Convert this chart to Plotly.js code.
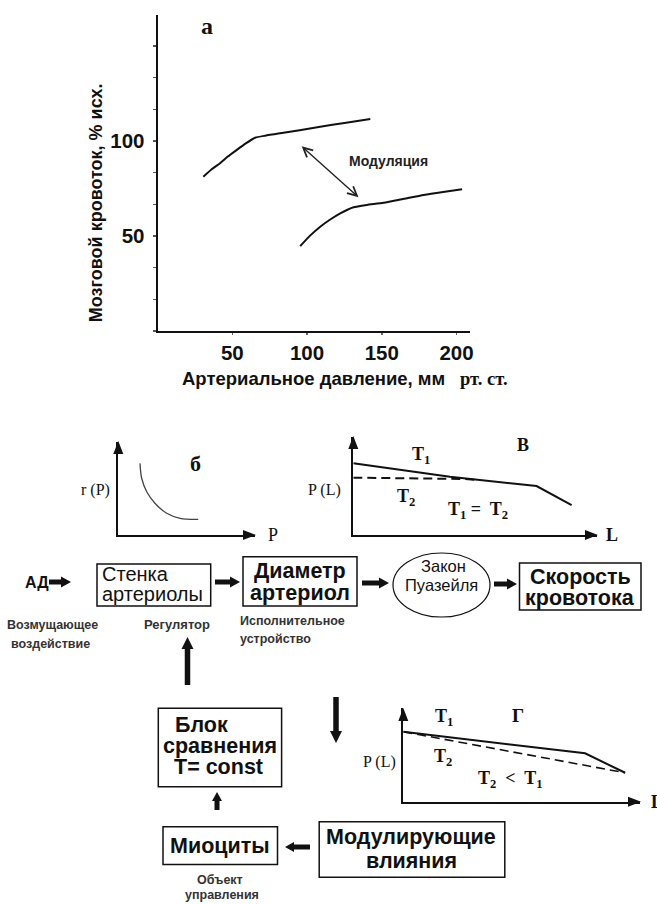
<!DOCTYPE html>
<html><head><meta charset="utf-8">
<script src="https://cdn.plot.ly/plotly-3.0.1.min.js"></script>
<style>html,body{margin:0;padding:0;background:#fff}#chart{width:657px;height:904px}</style>
</head><body><div id="chart"></div>
<script>
// ---- data: panel а (cerebral blood flow vs arterial pressure) ----
const upperPressure = [30.6, 36, 41.8, 47, 53.0, 59, 65.2, 72, 82.0, 95, 108.8, 125, 142.3];
const upperFlow     = [81.2, 85, 88.3, 91.8, 95.3, 98.7, 101.7, 102.8, 104.1, 105.7, 107.5, 109.5, 111.6];
const lowerPressure = [95.4, 102, 108.8, 115.5, 122.2, 127, 131.1, 140, 151.2, 165, 178.0, 191, 203.7];
const lowerFlow     = [44.7, 50.2, 54.9, 58.7, 61.9, 63.8, 65.1, 66.3, 67.5, 69.6, 71.6, 73.2, 74.6];
const xTickVals = [50, 100, 150, 200];
const xTickText = ['50', '100', '150', '200'];
const yTickVals = [50, 100];
const yTickText = ['50', '100'];
const yMinorStep = 16.6667;
const modArrowFrom = [95.4, 97.9];
const modArrowTo = [134.4, 70.4];
// ---- panel б: r(P) ----
const bP = [15.9, 17.1, 20.8, 26.8, 35.4, 45.2, 58.5];
const bR = [76.8, 60.8, 46.4, 34.0, 23.3, 17.9, 16.8];
// ---- panel в: P(L), T1 = T2 ----
const vL_T1 = [0, 39.7, 75.3, 89.7];
const vP_T1 = [72.9, 59.3, 49.8, 30.5];
const vL_T2 = [0, 45.6, 50.9];
const vP_T2 = [58.3, 57.0, 56.0];
// ---- panel г: P(L), T2 < T1 ----
const gL_T1 = [0, 76.8, 93.7];
const gP_T1 = [74.9, 51.8, 31.0];
const gL_T2 = [0, 93.7];
const gP_T2 = [74.9, 31.0];

const W = 657, H = 904;
const X = p => p / W;
const Y = p => 1 - p / H;
const SANS = 'Liberation Sans, Arial, sans-serif';
const SERIF = 'Liberation Serif, Times New Roman, serif';
const INK = '#111';

function blockArrow(x0, y0, x1, y1, sw, hw, hl) {
  const dx = x1 - x0, dy = y1 - y0, len = Math.hypot(dx, dy);
  const ux = dx / len, uy = dy / len, nx = -uy, ny = ux;
  const bx = x0 + ux * (len - hl), by = y0 + uy * (len - hl);
  const pts = [
    [x0 + nx * sw / 2, y0 + ny * sw / 2], [bx + nx * sw / 2, by + ny * sw / 2],
    [bx + nx * hw / 2, by + ny * hw / 2], [x1, y1],
    [bx - nx * hw / 2, by - ny * hw / 2], [bx - nx * sw / 2, by - ny * sw / 2],
    [x0 - nx * sw / 2, y0 - ny * sw / 2]];
  const d = 'M' + pts.map(p => X(p[0]).toFixed(5) + ',' + Y(p[1]).toFixed(5)).join(' L') + ' Z';
  return {type: 'path', xref: 'paper', yref: 'paper', path: d, fillcolor: INK, line: {width: 0}};
}
function rect(x0, y0, x1, y1) {
  return {type: 'rect', xref: 'paper', yref: 'paper', x0: X(x0), x1: X(x1), y0: Y(y1), y1: Y(y0),
    line: {color: INK, width: 1.5}, fillcolor: 'rgba(0,0,0,0)'};
}
function txt(x, y, text, size, opts) {
  opts = opts || {};
  return Object.assign({xref: 'paper', yref: 'paper', x: X(x), y: Y(y), text: text, showarrow: false,
    xanchor: 'center', yanchor: 'middle',
    font: {family: opts.family || SANS, size: size, color: opts.color || INK, weight: opts.weight || 'normal'}},
    opts.extra || {});
}

const traces = [
  {x: upperPressure, y: upperFlow, xaxis: 'x', yaxis: 'y', mode: 'lines', line: {color: INK, width: 2, shape: 'spline', smoothing: 0.5}},
  {x: lowerPressure, y: lowerFlow, xaxis: 'x', yaxis: 'y', mode: 'lines', line: {color: INK, width: 2, shape: 'spline', smoothing: 0.5}},
  {x: bP, y: bR, xaxis: 'x2', yaxis: 'y2', mode: 'lines', line: {color: '#444', width: 1.3, shape: 'spline'}},
  {x: vL_T1, y: vP_T1, xaxis: 'x3', yaxis: 'y3', mode: 'lines', line: {color: INK, width: 2}},
  {x: vL_T2, y: vP_T2, xaxis: 'x3', yaxis: 'y3', mode: 'lines', line: {color: INK, width: 2, dash: '9px,5px'}},
  {x: gL_T1, y: gP_T1, xaxis: 'x4', yaxis: 'y4', mode: 'lines', line: {color: INK, width: 2}},
  {x: gL_T2, y: gP_T2, xaxis: 'x4', yaxis: 'y4', mode: 'lines', line: {color: INK, width: 1.6, dash: '9px,5px'}}
];

const miniAxis = (dom, anchor) => ({domain: dom, range: [0, 100], anchor: anchor, showline: true, linecolor: INK, linewidth: 2,
  showticklabels: false, ticks: '', showgrid: false, zeroline: false, fixedrange: true});

const layout = {
  width: W, height: H, margin: {l: 0, r: 0, t: 0, b: 0, pad: 0},
  paper_bgcolor: '#fff', plot_bgcolor: 'rgba(0,0,0,0)', showlegend: false,
  xaxis: {domain: [X(157.6), X(470)], range: [0, 209], anchor: 'y', showline: true, linecolor: INK, linewidth: 2,
    tickvals: xTickVals, ticktext: xTickText, ticks: 'outside', ticklen: 2, tickcolor: '#666', tickwidth: 1.5,
    tickfont: {family: SANS, size: 20.5, color: INK, weight: 'bold'}, showgrid: false, zeroline: false, fixedrange: true},
  yaxis: {domain: [Y(331), Y(15)], range: [0, 166.3], anchor: 'x', showline: true, linecolor: INK, linewidth: 2,
    tickvals: yTickVals, ticktext: yTickText, ticks: 'outside', ticklen: 3, tickcolor: '#555', tickwidth: 1.5,
    minor: {tickmode: 'linear', tick0: 0, dtick: yMinorStep, ticks: 'outside', ticklen: 3, tickcolor: '#555', tickwidth: 1.5, showgrid: false},
    ticklabelstandoff: 4,
    tickfont: {family: SANS, size: 20.5, color: INK, weight: 'bold'}, showgrid: false, zeroline: false, fixedrange: true},
  xaxis2: miniAxis([X(118.3), X(255)], 'y2'),
  yaxis2: miniAxis([Y(535), Y(441.7)], 'x2'),
  xaxis3: miniAxis([X(353.3), X(596.7)], 'y3'),
  yaxis3: miniAxis([Y(535), Y(436.7)], 'x3'),
  xaxis4: miniAxis([X(403.3), X(640)], 'y4'),
  yaxis4: miniAxis([Y(801.7), Y(708.3)], 'x4'),
  shapes: [
    // mini-axis arrow heads
    blockArrow(118.3, 455, 118.3, 441, 0, 10, 13), blockArrow(242, 535, 256, 535, 0, 10, 13),
    blockArrow(353.3, 450, 353.3, 436, 0, 10, 13), blockArrow(584, 535, 598, 535, 0, 10, 13),
    blockArrow(403.3, 722, 403.3, 708, 0, 10, 13), blockArrow(627, 801.7, 641, 801.7, 0, 10, 13),
    // flow diagram
    blockArrow(49, 582, 71, 582, 5, 11, 10),
    rect(97, 564, 210.7, 606),
    blockArrow(215, 582, 240, 582, 5, 11, 10),
    rect(243, 556.7, 357, 606),
    blockArrow(362, 583, 389, 583, 5, 11, 10),
    {type: 'circle', xref: 'paper', yref: 'paper', x0: X(393), x1: X(490), y0: Y(617), y1: Y(553), line: {color: INK, width: 1.2}},
    blockArrow(494, 584, 517, 584, 5, 11, 10),
    rect(519.5, 563, 641, 610),
    blockArrow(187.5, 685, 187.5, 637, 5.5, 12, 12),
    blockArrow(336, 697, 336, 743, 5.5, 12, 12),
    rect(158.3, 708.3, 281.6, 786.7),
    blockArrow(217, 810, 217, 792, 5, 10, 9),
    rect(163, 826.7, 277.5, 864.5),
    blockArrow(310, 847, 285, 847, 5, 10, 9),
    rect(319.2, 821.7, 504.8, 877.3)
  ],
  annotations: [
    // panel а
    txt(207, 26, 'а', 24, {family: SERIF, weight: 'bold'}),
    txt(96.7, 202.5, 'Мозговой кровоток, % исх.', 18, {weight: 'bold', extra: {textangle: -90}}),
    txt(180, 378, 'Артериальное давление, мм', 18.5, {weight: 'bold', extra: {xanchor: 'left'}}),
    txt(458, 379, 'рт. ст.', 18.5, {family: SERIF, weight: 'bold', extra: {xanchor: 'left'}}),
    {xref: 'x', yref: 'y', x: 154.6, y: 89.5, text: 'Модуляция', showarrow: false,
      font: {family: SANS, size: 14, color: '#222', weight: 'bold'}},
    {xref: 'x', yref: 'y', axref: 'x', ayref: 'y', x: modArrowTo[0], y: modArrowTo[1], ax: modArrowFrom[0], ay: modArrowFrom[1],
      text: '', showarrow: true, arrowside: 'end+start', arrowhead: 5, startarrowhead: 5, arrowsize: 1.3, startarrowsize: 1.3,
      arrowwidth: 1.4, arrowcolor: '#222', standoff: 0, startstandoff: 0},
    // panel б
    txt(195, 463, 'б', 22, {family: SERIF, weight: 'bold'}),
    txt(112, 490, 'r (P)', 16, {family: SERIF, extra: {xanchor: 'right'}}),
    txt(273, 535, 'P', 18, {family: SERIF}),
    // panel в
    txt(343, 490, 'P (L)', 16, {family: SERIF, extra: {xanchor: 'right'}}),
    txt(523, 445, 'В', 18, {family: SERIF, weight: 'bold'}),
    txt(421, 455, 'T<sub>1</sub>', 18, {family: SERIF, weight: 'bold'}),
    txt(406, 497, 'T<sub>2</sub>', 18, {family: SERIF, weight: 'bold'}),
    txt(478, 511, 'T<sub>1</sub> =  T<sub>2</sub>', 18, {family: SERIF, weight: 'bold'}),
    txt(612, 535, 'L', 18, {family: SERIF, weight: 'bold'}),
    // panel г
    txt(398, 762, 'P (L)', 16, {family: SERIF, extra: {xanchor: 'right'}}),
    txt(444, 717, 'T<sub>1</sub>', 18, {family: SERIF, weight: 'bold'}),
    txt(518, 715, 'Г', 19, {family: SERIF, weight: 'bold'}),
    txt(443, 757, 'T<sub>2</sub>', 18, {family: SERIF, weight: 'bold'}),
    txt(510, 779, 'T<sub>2</sub>  &lt;  T<sub>1</sub>', 18, {family: SERIF, weight: 'bold'}),
    txt(649, 802, 'L', 18, {family: SERIF, weight: 'bold', extra: {xanchor: 'left'}}),
    // flow diagram
    txt(36.7, 582, 'АД', 16, {weight: 'bold'}),
    txt(100, 574, 'Стенка', 20, {extra: {xanchor: 'left'}}),
    txt(100, 594, 'артериолы', 20, {extra: {xanchor: 'left'}}),
    txt(300, 571, 'Диаметр', 21.5, {weight: 'bold'}),
    txt(300, 593, 'артериол', 21.5, {weight: 'bold'}),
    txt(443, 566, 'Закон', 16.5),
    txt(441, 585, 'Пуазейля', 16.5),
    txt(580, 577, 'Скорость', 21.5, {weight: 'bold'}),
    txt(580, 598, 'кровотока', 21.5, {weight: 'bold'}),
    txt(52, 625, 'Возмущающее', 12.5, {weight: 'bold', color: '#333'}),
    txt(50, 644, 'воздействие', 12.5, {weight: 'bold', color: '#333'}),
    txt(177, 624, 'Регулятор', 13, {weight: 'bold', color: '#333'}),
    txt(238, 621, 'Исполнительное', 12.5, {weight: 'bold', color: '#333', extra: {xanchor: 'left'}}),
    txt(238, 639, 'устройство', 12.5, {weight: 'bold', color: '#333', extra: {xanchor: 'left'}}),
    txt(201.7, 725, 'Блок', 21.5, {weight: 'bold'}),
    txt(219.5, 746, 'сравнения', 21.5, {weight: 'bold'}),
    txt(218.3, 767, 'T= const', 21.5, {weight: 'bold'}),
    txt(220, 846, 'Миоциты', 21.5, {weight: 'bold'}),
    txt(411, 837, 'Модулирующие', 21.5, {weight: 'bold'}),
    txt(411, 861, 'влияния', 21.5, {weight: 'bold'}),
    txt(220, 880, 'Объект', 12.5, {weight: 'bold', color: '#333'}),
    txt(222, 895, 'управления', 12.5, {weight: 'bold', color: '#333'})
  ]
};

Plotly.newPlot('chart', traces, layout, {staticPlot: true, displayModeBar: false});
</script>
</body></html>
